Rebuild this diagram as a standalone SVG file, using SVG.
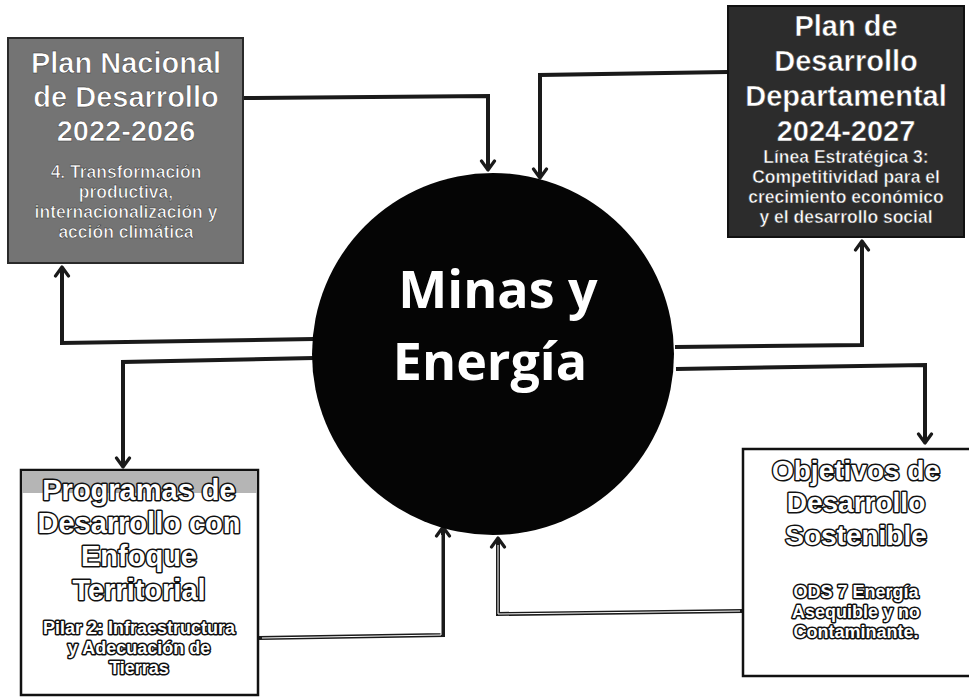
<svg xmlns="http://www.w3.org/2000/svg" width="969" height="698" viewBox="0 0 969 698">
<style>
  .bg { fill: #ffffff; }
  .box-gray { fill: #747474; stroke: #2a2a2a; stroke-width: 2; }
  .box-dark { fill: #2c2c2c; stroke: #111; stroke-width: 2; }
  .box-white { fill: #ffffff; stroke: #111; stroke-width: 2.5; }
  .band { fill: #b5b5b5; }
  .title { font-family: "Liberation Sans", Arial, sans-serif; font-weight: 700; font-size: 29px; text-anchor: middle; }
  .title-s { font-family: "Liberation Sans", Arial, sans-serif; font-weight: 700; font-size: 28px; text-anchor: middle; }
  .sub { font-family: "Liberation Sans", Arial, sans-serif; font-weight: 700; font-size: 17.5px; text-anchor: middle; }
  .sub-l { font-family: "Liberation Sans", Arial, sans-serif; font-weight: 700; font-size: 18px; text-anchor: middle; }
  .onfill { fill: #ffffff; stroke: #333; stroke-width: 0.5; }
  .outline { fill: #ffffff; stroke: #111; stroke-width: 3; paint-order: stroke; stroke-linejoin: round; }
  .conn { fill: none; stroke: #1a1a1a; stroke-width: 4; stroke-linejoin: miter; }
  .conn-in { fill: none; stroke: #ffffff; stroke-width: 1; }
  .center-text { font-family: "Open Sans", "Liberation Sans", sans-serif; font-weight: 700; font-size: 52px; fill: #ffffff; text-anchor: middle; }
</style>
<defs>
  <marker id="arrow" viewBox="-12 -9 14 18" markerWidth="14" markerHeight="18" refX="0" refY="0" orient="auto" markerUnits="userSpaceOnUse">
    <path d="M-9,-6.5 L0,0 L-9,6.5" fill="none" stroke="#1a1a1a" stroke-width="3.2" stroke-linecap="round" stroke-linejoin="round"/>
  </marker>
</defs>
<rect class="bg" x="0" y="0" width="969" height="698"/>

<g id="connectors">
  <path class="conn" d="M243,98 L488,96 L488,170" marker-end="url(#arrow)"/>
  <path class="conn" d="M728,72 L540,75 L540,178" marker-end="url(#arrow)"/>
  <path class="conn" d="M314,339 L62,343 L62,267" marker-end="url(#arrow)"/>
  <path class="conn" d="M314,358 L123,362 L123,467" marker-end="url(#arrow)"/>
  <path class="conn" d="M675,347 L862,345 L862,241" marker-end="url(#arrow)"/>
  <path class="conn" d="M676,369 L925,365 L925,443" marker-end="url(#arrow)"/>
  <path class="conn" d="M259,638 L443,635 L443,527" marker-end="url(#arrow)"/>
  <path class="conn" d="M743,611 L498,614 L498,538" marker-end="url(#arrow)"/>
  <path class="conn-in" d="M262,638 L441,635 L441,535"/>
  <path class="conn-in" d="M740,611 L498,614 L498,545"/>
</g>

<g id="node-center">
  <circle cx="493" cy="354" r="181" fill="#050505"/>
  <text class="center-text" x="498" y="308">Minas y</text>
  <text class="center-text" x="490" y="380">Energía</text>
</g>

<g id="node-pnd">
  <rect class="box-gray" x="8" y="38" width="235" height="225"/>
  <text class="title onfill" x="126" y="73">Plan Nacional</text>
  <text class="title onfill" x="126" y="107">de Desarrollo</text>
  <text class="title onfill" x="126" y="141">2022-2026</text>
  <text class="sub onfill" x="126" y="178">4. Transformación</text>
  <text class="sub onfill" x="126" y="198">productiva,</text>
  <text class="sub onfill" x="126" y="218">internacionalización y</text>
  <text class="sub onfill" x="126" y="238">acción climática</text>
</g>

<g id="node-pdd">
  <rect class="box-dark" x="728" y="6" width="236" height="231"/>
  <text class="title onfill" x="846" y="36">Plan de</text>
  <text class="title onfill" x="846" y="71">Desarrollo</text>
  <text class="title onfill" x="846" y="106">Departamental</text>
  <text class="title onfill" x="846" y="141">2024-2027</text>
  <text class="sub onfill" x="846" y="163">Línea Estratégica 3:</text>
  <text class="sub onfill" x="846" y="183">Competitividad para el</text>
  <text class="sub onfill" x="846" y="203">crecimiento económico</text>
  <text class="sub onfill" x="846" y="223">y el desarrollo social</text>
</g>

<g id="node-pdet">
  <rect class="box-white" x="21" y="470" width="237" height="225"/>
  <rect class="band" x="22" y="471" width="235" height="22"/>
  <text class="title outline" x="139" y="500">Programas de</text>
  <text class="title outline" x="139" y="533">Desarrollo con</text>
  <text class="title outline" x="139" y="566">Enfoque</text>
  <text class="title outline" x="139" y="600">Territorial</text>
  <text class="sub-l outline" x="139" y="634">Pilar 2: Infraestructura</text>
  <text class="sub-l outline" x="139" y="654">y Adecuación de</text>
  <text class="sub-l outline" x="139" y="674">Tierras</text>
</g>

<g id="node-ods">
  <rect class="box-white" x="743" y="449" width="232" height="227"/>
  <text class="title-s outline" x="856" y="480">Objetivos de</text>
  <text class="title-s outline" x="856" y="512">Desarrollo</text>
  <text class="title-s outline" x="856" y="545">Sostenible</text>
  <text class="sub-l outline" x="856" y="598">ODS 7 Energía</text>
  <text class="sub-l outline" x="856" y="618">Asequible y no</text>
  <text class="sub-l outline" x="856" y="638">Contaminante.</text>
</g>
</svg>
